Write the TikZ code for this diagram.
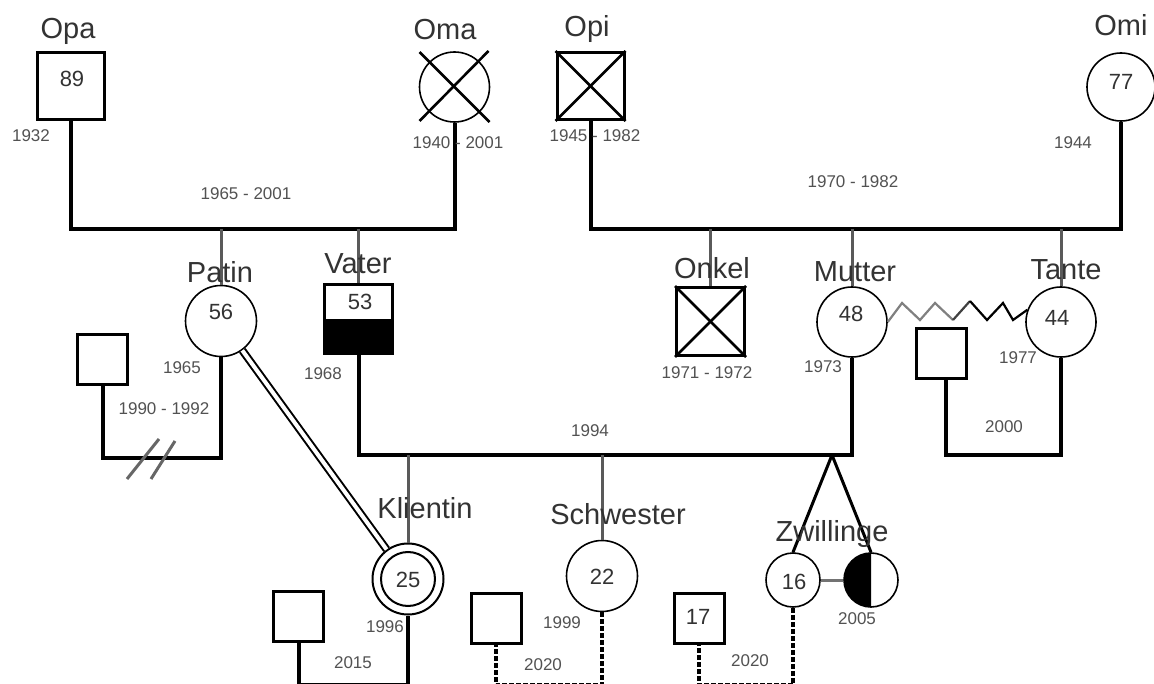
\documentclass[tikz,border=0pt]{standalone}
\usepackage{fontspec}
\setmainfont{Liberation Sans}
\usetikzlibrary{calc}
\definecolor{txt}{HTML}{333333}
\definecolor{drop}{HTML}{5A5A5A}
\begin{document}
\begin{tikzpicture}[x=1pt,y=-1pt,
  bigsq/.style={draw, rectangle, line width=3, minimum size=67, inner sep=0},
  smsq/.style={draw, rectangle, line width=3, minimum size=50, inner sep=0},
  fcirc/.style={draw, circle, line width=1.6, minimum size=70, inner sep=0},
  twc/.style={draw, circle, line width=1.6, minimum size=54, inner sep=0},
  pname/.style={font=\fontsize{29}{30}\selectfont, text=txt, inner sep=0},
  pnum/.style={font=\fontsize{22}{23}\selectfont, text=txt, inner sep=0},
  yr/.style={font=\fontsize{17}{18}\selectfont, text=txt!85!white, inner sep=0},
  rel/.style={line width=4, line join=miter},
  drp/.style={draw=drop, line width=3},
  dsh/.style={line width=4, dash pattern=on 5pt off 2pt},
  xline/.style={line width=2.6},
  zz/.style={line width=2.2, line join=miter}
]
\fill[white] (0,0) rectangle (1154,684);
\useasboundingbox (0,0) rectangle (1154,684);

% ---------- grandparents ----------
\node[bigsq] (opa) at (70.5,86) {};
\node[fcirc] (oma) at (454.5,87) {};
\draw[xline] ($(oma)+(-35,-35)$) -- ($(oma)+(35,35)$);
\draw[xline] ($(oma)+(34,-36)$) -- ($(oma)+(-35,34)$);
\node[bigsq] (opi) at (590.5,86) {};
\draw[xline] (opi.north west) -- (opi.south east);
\draw[xline] (opi.north east) -- (opi.south west);
\node[fcirc, minimum size=68] (omi) at (1121,87) {};

\coordinate (m1) at (260,229);
\coordinate (m2) at (850,229);
\draw[rel] (opa.south) |- (m1) -| (oma.south);
\draw[rel] (opi.south) |- (m2) -| (omi.south);

% ---------- parents generation ----------
\node[fcirc, minimum size=71] (patin) at (221,321) {};
\node[draw, rectangle, line width=3, minimum width=68, minimum height=69, inner sep=0] (vater) at (358.5,319) {};
\fill[black] (vater.south west) rectangle (vater.east);
\node[bigsq, minimum size=68] (onkel) at (710.5,321.5) {};
\draw[xline] (onkel.north west) -- (onkel.south east);
\draw[xline] (onkel.north east) -- (onkel.south west);
\node[fcirc] (mutter) at (852,322) {};
\node[fcirc] (tante) at (1061,322) {};
\node[smsq] (expartner) at (102.5,359.5) {};
\node[smsq] (tpartner) at (941,353.5) {};

\draw[drp] (m1 -| patin) -- (patin.north);
\draw[drp] (m1 -| vater) -- (vater.north);
\draw[drp] (m2 -| onkel) -- (onkel.north);
\draw[drp] (m2 -| mutter) -- (mutter.north);
\draw[drp] (m2 -| tante) -- (tante.north);

% Patin with ex-partner
\coordinate (exm) at (160,458);
\draw[rel] (expartner.south) |- (exm) -| (patin.south);
\draw[draw=black!60, line width=3] (127,479) -- (159,439);
\draw[draw=black!60, line width=3] (151,479) -- (175,441);

% Tante with partner
\coordinate (tm) at (1000,455);
\draw[rel] ([xshift=5pt]tpartner.south) |- (tm) -| (tante.south);

% Mutter - Tante conflict zigzag
\draw[zz, black!50] (mutter.east) -- (902,303) -- (920,320) -- (935,303) -- (953,320);
\draw[zz, black!75] (953,320) -- (970,301);
\draw[zz, black] (970,301) -- (987,320) -- (1003,303) -- (1013,320) -- (tante.160);

% ---------- children ----------
\node[fcirc, minimum size=71, line width=2] (klientin) at (408,579) {};
\node[draw, circle, line width=2, minimum size=54, inner sep=0] (kinner) at (408,579) {};
\node[fcirc, minimum size=71] (schwester) at (602,576) {};
\node[twc] (twin1) at (793,580) {};
\node[twc] (twin2) at (871,580) {};
\begin{scope}
  \clip ($(twin2.center)+(-32,-32)$) rectangle ($(twin2.center)+(0,32)$);
  \fill[black] (twin2.center) circle[radius=27];
\end{scope}

\coordinate (sib) at (600,455);
\coordinate (tw) at (832,455);
\draw[rel] (vater.south) |- (sib) -| (mutter.south);
\draw[drp] (sib -| klientin) -- (klientin.north);
\draw[drp] (sib -| schwester) -- (schwester.north);
\draw[line width=3] (tw) -- (twin1.north);
\draw[line width=3] (tw) -- (twin2.north);
\draw[draw=black!55, line width=3] (twin1.east) -- (twin2.west);

\draw[line width=2, double=white, double distance=4] (patin) -- (klientin);

% ---------- partners of children ----------
\node[smsq] (kpartner) at (298.5,616.5) {};
\node[smsq] (spartner) at (496,618.5) {};
\node[smsq] (zpartner) at (699,618) {};
\coordinate (km) at (350,685);
\coordinate (sm) at (550,685);
\coordinate (zm) at (750,685);
\draw[rel] (kpartner.south) |- (km) -| (klientin.south);
\draw[dsh] (schwester.south) |- (sm) -| (spartner.south);
\draw[dsh] (twin1.south) |- (zm) -| (zpartner.south);

% ---------- names ----------
\node[pname] (lopa) at (68,31) {Opa};
\node[pname] (loma) at (445,30) {Oma};
\node[pname] (lopi) at (587,29) {Opi};
\node[pname] (lomi) at (1121,25) {Omi};
\node[pname] (lpatin) at (220,272) {Patin};
\node[pname] (lvater) at (358,264) {Vater};
\node[pname] (lonkel) at (712,268) {Onkel};
\node[pname] (lmutter) at (855,272) {Mutter};
\node[pname] (ltante) at (1066,270) {Tante};
\node[pname] (lklientin) at (425,508) {Klientin};
\node[pname] (lschwester) at (618,514) {Schwester};
\node[pname] (lzwillinge) at (832,534) {Zwillinge};

% ---------- ages ----------
\node[pnum] (a89) at (72,79) {89};
\node[pnum] (a77) at (1121,82) {77};
\node[pnum] (a56) at (221,312) {56};
\node[pnum] (a53) at (360,302) {53};
\node[pnum] (a48) at (851,314) {48};
\node[pnum] (a44) at (1057,318) {44};
\node[pnum] (a25) at (408,580) {25};
\node[pnum] (a22) at (602,577) {22};
\node[pnum] (a16) at (794,582) {16};
\node[pnum] (a17) at (698,617) {17};

% ---------- years ----------
\node[yr] (y1932) at (31,136) {1932};
\node[yr] (y1940) at (458,143) {1940 - 2001};
\node[yr] (y1965m) at (246,194) {1965 - 2001};
\node[yr] (y1945) at (595,136) {1945 - 1982};
\node[yr] (y1944) at (1073,143) {1944};
\node[yr] (y1970) at (853,182) {1970 - 1982};
\node[yr] (y1965) at (182,368) {1965};
\node[yr] (y1968) at (323,374) {1968};
\node[yr] (y1990) at (164,409) {1990 - 1992};
\node[yr] (y1971) at (707,373) {1971 - 1972};
\node[yr] (y1973) at (823,367) {1973};
\node[yr] (y1977) at (1018,358) {1977};
\node[yr] (y2000) at (1004,427) {2000};
\node[yr] (y1994) at (590,431) {1994};
\node[yr] (y1996) at (385,627) {1996};
\node[yr] (y1999) at (562,623) {1999};
\node[yr] (y2005) at (857,619) {2005};
\node[yr] (y2015) at (353,663) {2015};
\node[yr] (y2020a) at (543,665) {2020};
\node[yr] (y2020b) at (750,661) {2020};
\end{tikzpicture}
\end{document}
